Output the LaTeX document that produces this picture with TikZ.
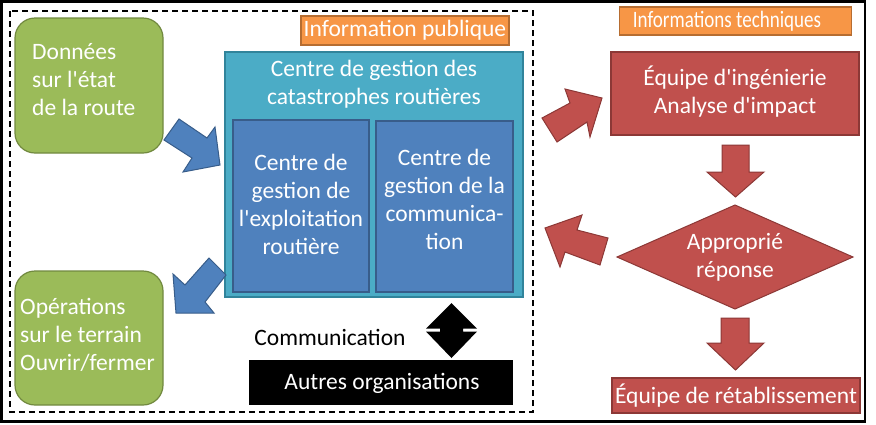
\documentclass[tikz,border=0pt]{standalone}
\usepackage{fontspec}
\usepackage{graphicx}
\setmainfont{Carlito}[Ligatures=TeXOff]
\definecolor{gfill}{HTML}{9BBB59}\definecolor{gline}{HTML}{71893F}
\definecolor{tfill}{HTML}{4BACC6}\definecolor{tline}{HTML}{31849B}
\definecolor{bfill}{HTML}{4F81BD}\definecolor{bline}{HTML}{385D8A}
\definecolor{ofill}{HTML}{F79646}\definecolor{oline}{HTML}{B66D31}
\definecolor{rfill}{HTML}{C0504D}\definecolor{rline}{HTML}{8C3836}
\tikzset{
  box/.style={draw, line width=1.2pt, inner sep=0pt},
  greenbox/.style={box, fill=gfill, draw=gline, rounded corners=20pt},
  tealbox/.style={box, fill=tfill, draw=tline, line width=1.6pt},
  bluebox/.style={box, fill=bfill, draw=bline},
  orangebox/.style={box, fill=ofill, draw=oline},
  redbox/.style={box, fill=rfill, draw=rline},
  blackbox/.style={box, fill=black, draw=black},
  wtxt/.style={text=white, font=\fontsize{23.5}{28}\selectfont, inner sep=0pt},
  ktxt/.style={text=black, font=\fontsize{23.5}{28}\selectfont, inner sep=0pt},
  bluearrow/.style={fill=bfill, draw=bline, line width=1pt, line join=miter},
  redarrow/.style={fill=rfill, draw=rline, line width=1pt, line join=miter},
}
\begin{document}
\begin{tikzpicture}[x=1pt,y=-1pt]
\useasboundingbox (0,0) rectangle (876,424);
\fill[white] (0,0) rectangle (876,424);
% frames
\draw[line width=2.5pt] (1.5,1.5) rectangle (865,421.5);
\draw[line width=1.5pt, dash pattern=on 6pt off 4pt] (10,11) rectangle (533,412);
% left green boxes
\node[greenbox, minimum width=148pt, minimum height=135pt] (donnees) at (89,85.5) {};
\node[wtxt, align=left, anchor=west] (donneesT) at (32,80) {Données\\sur l'état\\de la route};
\node[greenbox, minimum width=148pt, minimum height=134pt] (operations) at (89,338) {};
\node[wtxt, align=left, anchor=west] (operationsT) at (20,335) {Opérations\\sur le terrain\\Ouvrir/fermer};
% centre
\node[tealbox, minimum width=298pt, minimum height=245pt] (centre) at (374,174.5) {};
\node[wtxt, align=center] (centreT) at (374,84) {Centre de gestion des\\catastrophes routières};
\node[bluebox, minimum width=136pt, minimum height=172pt] (exploit) at (301,206) {};
\node[wtxt, align=center] (exploitT) at (301,204) {Centre de\\gestion de\\l'exploitation\\routière};
\node[bluebox, minimum width=137pt, minimum height=171pt] (comm) at (444.5,206.5) {};
\node[wtxt, align=center] (commT) at (444.5,199) {Centre de\\gestion de la\\communica-\\tion};
% orange labels
\node[orangebox, minimum width=208pt, minimum height=29pt] (pub) at (405,30.5) {};
\node[wtxt] (pubT) at (405,30.5) {Information publique};
\node[orangebox, minimum width=232pt, minimum height=28pt] (tech) at (735.5,21) {};
\node[wtxt] (techT) at (727,21) {\scalebox{0.81}[1]{Informations techniques}};
% communication
\node[ktxt] (commLabel) at (330,337) {Communication};
\node[blackbox, minimum width=262pt, minimum height=43pt] (autres) at (381,382.5) {};
\node[wtxt] (autresT) at (382,383) {Autres organisations};
\coordinate (dtop) at (451.5,303);
\coordinate (dbot) at (451.5,358);
\fill[black] (dtop) -- (477,328.5) -- (463,328.5) -- (463,331.5) -- (477,331.5) -- (dbot) -- (426,331.5) -- (440,331.5) -- (440,328.5) -- (426,328.5) -- cycle;
% right red boxes
\node[redbox, minimum width=248pt, minimum height=83pt] (equipe) at (735,93.5) {};
\node[wtxt, align=center] (equipeT) at (735,92) {Équipe d'ingénierie\\Analyse d'impact};
\coordinate (approprie) at (735,257);
\draw[redarrow] (617,257) -- (735,205) -- (853,257) -- (735,309) -- cycle;
\node[wtxt, align=center] (approprieT) at (735,257.5) {Approprié\\réponse};
\node[redbox, minimum width=248pt, minimum height=35pt] (retab) at (736,395.5) {};
\node[wtxt] (retabT) at (736,396) {Équipe de rétablissement};
% red down arrows
\draw[redarrow] (722,145) -- (749,145) -- (749,172) -- (764,172) -- (735.5,197) -- (707,172) -- (722,172) -- cycle;
\draw[redarrow] (721,318) -- (749,318) -- (749,343) -- (764,343) -- (735.5,370) -- (707,343) -- (721,343) -- cycle;
% red block arrows
\draw[redarrow] (542,118) -- (570,103) -- (565,89) -- (602,98) -- (590,137) -- (587,122) -- (557,142) -- cycle;
\draw[redarrow] (545,228) -- (582,215) -- (577,230) -- (608,238) -- (600,265) -- (565,252) -- (560,267) -- cycle;
% blue block arrows
\draw[bluearrow] (179,119) -- (207,138) -- (215,127) -- (220,165) -- (183,172) -- (192,158) -- (164,140) -- cycle;
\draw[bluearrow] (209,258) -- (226,275) -- (205,302) -- (214,313) -- (176,313) -- (173,274) -- (185,285) -- cycle;
\end{tikzpicture}
\end{document}
